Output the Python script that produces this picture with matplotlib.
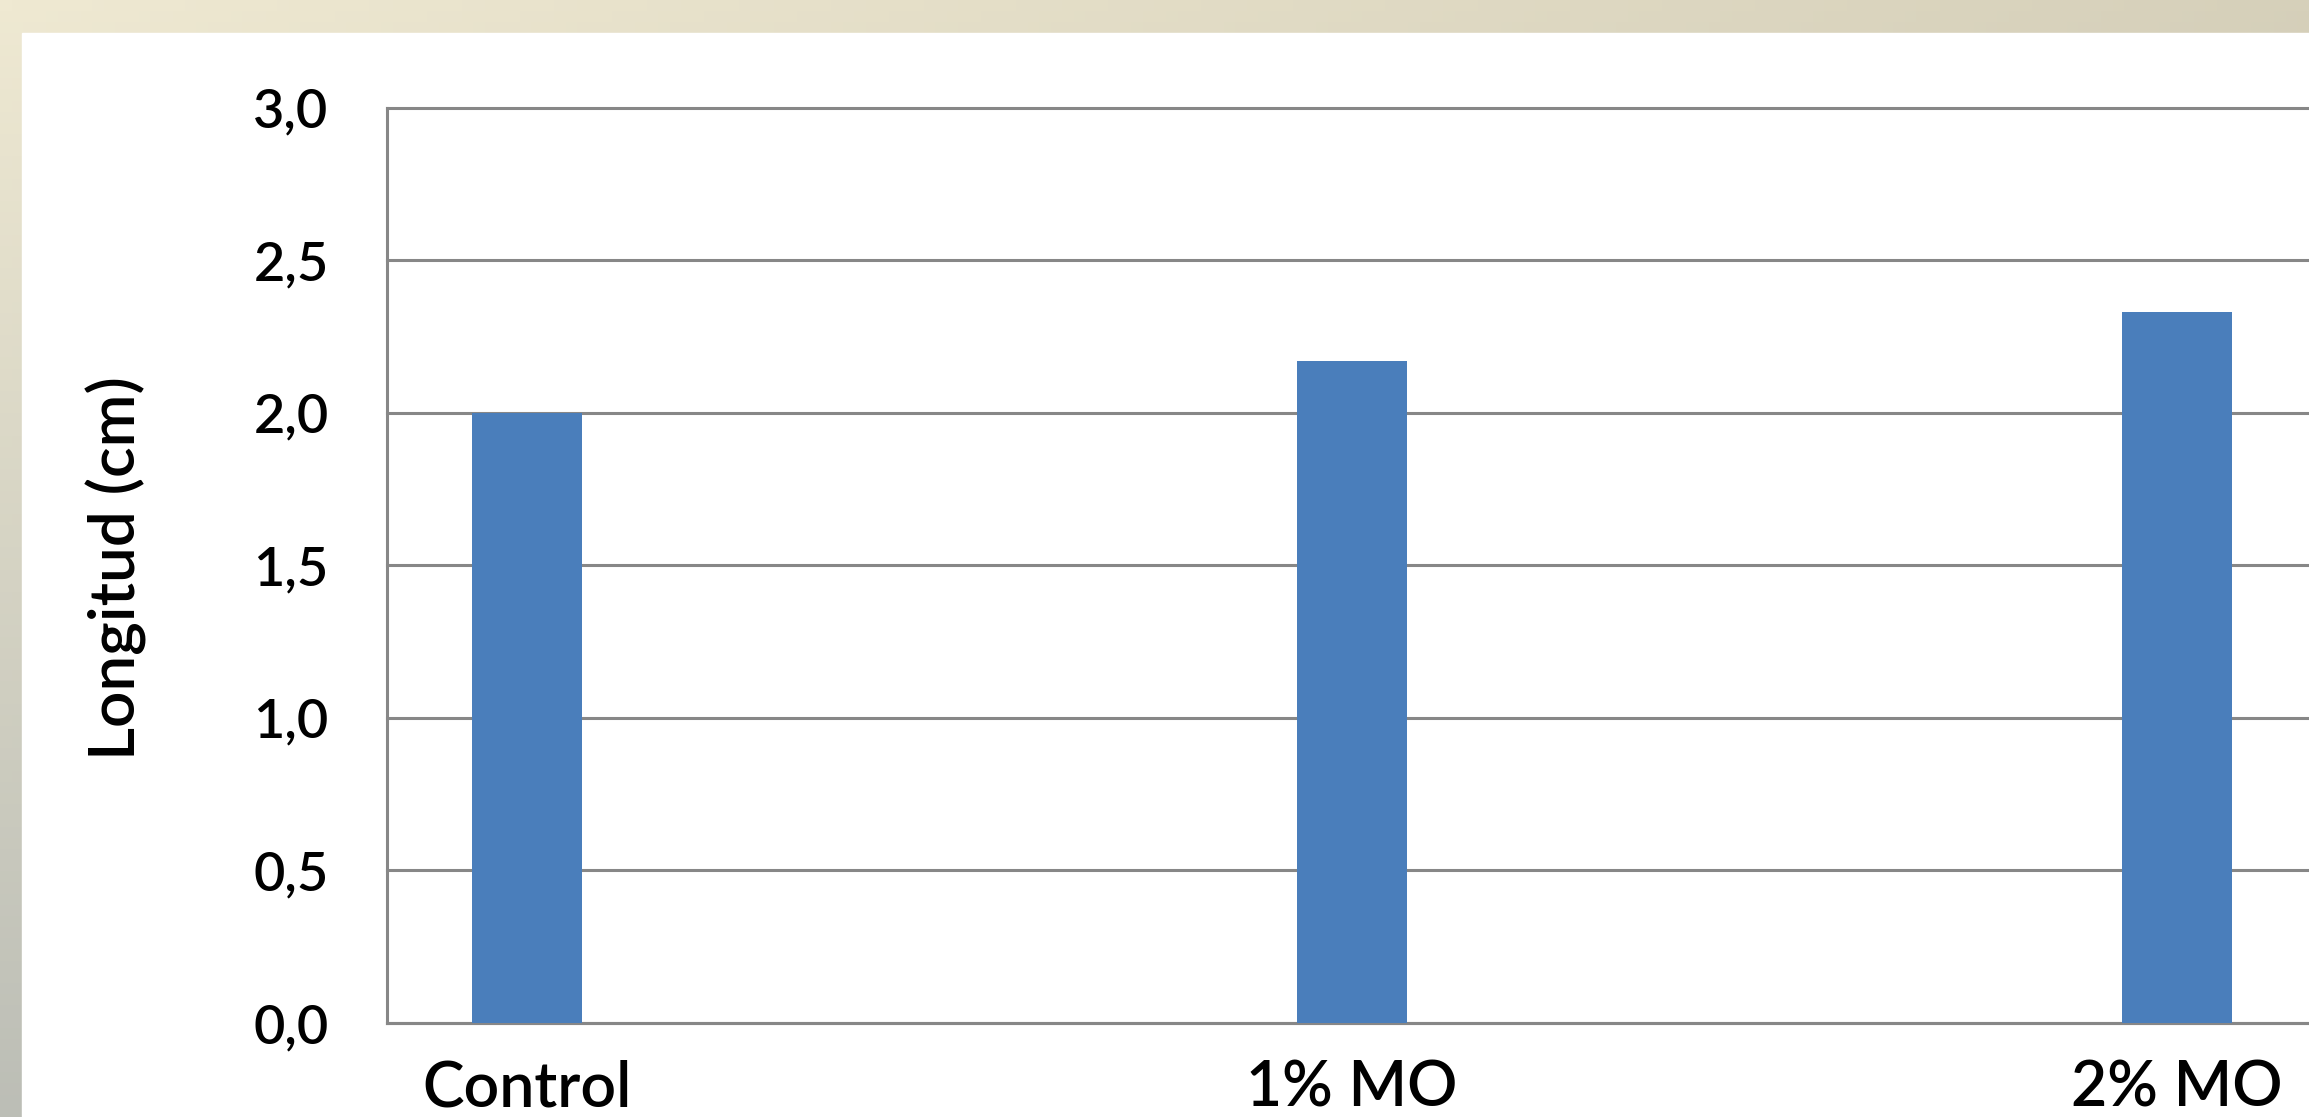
import numpy as np
import matplotlib
matplotlib.use("Agg")
import matplotlib.pyplot as plt
from matplotlib.patches import Rectangle
from matplotlib import font_manager as fm

categories = ["Control", "1% MO", "2% MO"]
values = [2.00, 2.17, 2.33]
yticks = [0.0, 0.5, 1.0, 1.5, 2.0, 2.5, 3.0]
ytick_labels = ["0,0", "0,5", "1,0", "1,5", "2,0", "2,5", "3,0"]
ylabel = "Longitud (cm)"

W, H = 2309, 1117
fig = plt.figure(figsize=(W / 100, H / 100), dpi=100)
plt.rcParams['font.family'] = ['Lato', 'DejaVu Sans']
lato_weights = sorted({f.weight for f in fm.fontManager.ttflist if f.name == 'Lato'}, key=str)
print(lato_weights)
WT = 'semibold'

# background gradient frame
bg = fig.add_axes([0, 0, 1, 1], zorder=-10)
bg.set_axis_off()
nx, ny = 200, 100
xx = np.linspace(0, 1, nx)[None, :]
yy = np.linspace(0, 1, ny)[:, None]
c_tl = np.array([0xEF, 0xE9, 0xD2]) / 255
c_tr = np.array([0xD6, 0xD0, 0xBA]) / 255
c_bl = np.array([0xBC, 0xBE, 0xB6]) / 255
top = c_tl[None, None, :] * (1 - xx[..., None]) + c_tr[None, None, :] * xx[..., None]
img = top * (1 - yy[..., None]) + c_bl[None, None, :] * yy[..., None]
bg.imshow(img, extent=[0, 1, 0, 1], aspect='auto', origin='upper')
bg.add_patch(Rectangle((22 / W, 0), 1, 1 - 33 / H, color='white', zorder=2))
bg.set_xlim(0, 1)
bg.set_ylim(0, 1)

left = 387 / W
bottom = 1 - 1023 / H
top_ = 1 - 107.5 / H
ax = fig.add_axes([left, bottom, 1 - left, top_ - bottom])
ax.set_facecolor('none')

x = np.arange(len(categories))
ax.bar(x, values, width=0.133, color='#4A7EBB', zorder=3)

ax.set_xlim(-0.1697, 2.16)
ax.set_ylim(0, 3.0)
ax.set_yticks(yticks)
ax.set_yticklabels(ytick_labels, fontsize=39, fontweight=WT)
ax.set_xticks(x)
ax.set_xticklabels(categories, fontsize=45, fontweight=WT)
ax.tick_params(axis='both', length=0)
ax.tick_params(axis='y', pad=42)
ax.tick_params(axis='x', pad=26)

gcol = '#878787'
for yv in yticks:
    ax.axhline(yv, color=gcol, lw=2.2, zorder=1, clip_on=False)
for s in ['top', 'right']:
    ax.spines[s].set_visible(False)
for s in ['left', 'bottom']:
    ax.spines[s].set_color(gcol)
    ax.spines[s].set_linewidth(2.2)

ax.set_ylabel(ylabel, fontsize=46, fontweight=WT)
ax.yaxis.set_label_coords(-0.1249, 0.497)

fig.savefig("out.png", dpi=100)
